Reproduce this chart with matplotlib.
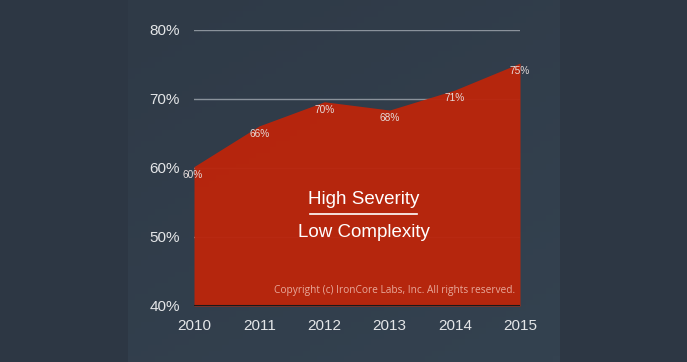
import matplotlib
matplotlib.use("Agg")
import matplotlib.pyplot as plt
from matplotlib.lines import Line2D
from matplotlib.colors import LinearSegmentedColormap
import numpy as np

years = [2010, 2011, 2012, 2013, 2014, 2015]
values = [60.2, 66.1, 69.6, 68.4, 71.3, 75.2]
labels = ["60%", "66%", "70%", "68%", "71%", "75%"]
yticks = [40, 50, 60, 70, 80]
ytick_labels = ["40%", "50%", "60%", "70%", "80%"]

plt.rcParams['font.family'] = ['Liberation Sans', 'DejaVu Sans']

fig = plt.figure(figsize=(6.87, 3.62), dpi=100)
fig.patch.set_facecolor('#2d3744')

# lighter centre panel with a soft gradient (background only)
bg = fig.add_axes([128/687, 0, (560-128)/687, 1], zorder=0)
bg.set_axis_off()
g = np.linspace(0, 1, 64)
grad = np.add.outer(g[::-1] * 0.6, g * 0.4)
cmap = LinearSegmentedColormap.from_list('p', ['#2f3a47', '#344250'])
bg.imshow(grad, cmap=cmap, aspect='auto', extent=[0, 1, 0, 1], origin='lower')

ax = fig.add_axes([194/687, 1-306/362, 326/687, 276/362], zorder=2)
ax.set_facecolor('none')
ax.set_xlim(years[0], years[-1])
ax.set_ylim(40, 80)

for y in yticks[1:]:
    ax.axhline(y, color='#8a929b', lw=1, zorder=1)

ax.fill_between(years, values, 40, color='#bb250b', alpha=0.96, lw=0, zorder=2)
ax.axhline(40, color='#1a1a1a', lw=1.5, zorder=3)

for i, (x, v, l) in enumerate(zip(years, values, labels)):
    dx = -0.025 if i == 0 else 0
    ax.text(x + dx, v - 0.45, l, ha='center', va='top', fontsize=7.3, color='#e6dcda', zorder=4)

ax.set_yticks(yticks)
ax.set_yticklabels(ytick_labels)
ax.set_xticks(years)
ax.set_xticklabels([str(y) for y in years])
ax.tick_params(axis='both', length=0, colors='#e4e6e8', labelsize=11)
ax.tick_params(axis='y', pad=10)
ax.tick_params(axis='x', pad=9)
for s in ax.spines.values():
    s.set_visible(False)

ax.text(0.52, 0.385, "High Severity", transform=ax.transAxes, ha='center', va='center',
        fontsize=13.5, color='white', zorder=5)
ax.add_line(Line2D([(310-194)/326, (417-194)/326], [(306-214)/276]*2,
                   transform=ax.transAxes, color='white', lw=1.2, zorder=5))
ax.text(0.52, 0.268, "Low Complexity", transform=ax.transAxes, ha='center', va='center',
        fontsize=13.5, color='white', zorder=5)
ax.text(0.985, 0.035, "Copyright (c) IronCore Labs, Inc. All rights reserved.",
        transform=ax.transAxes, ha='right', va='bottom', fontsize=7.3, color='#e8a89a',
        family=['Open Sans', 'DejaVu Sans'], zorder=5)

fig.savefig('out.png', dpi=100, facecolor=fig.get_facecolor())
